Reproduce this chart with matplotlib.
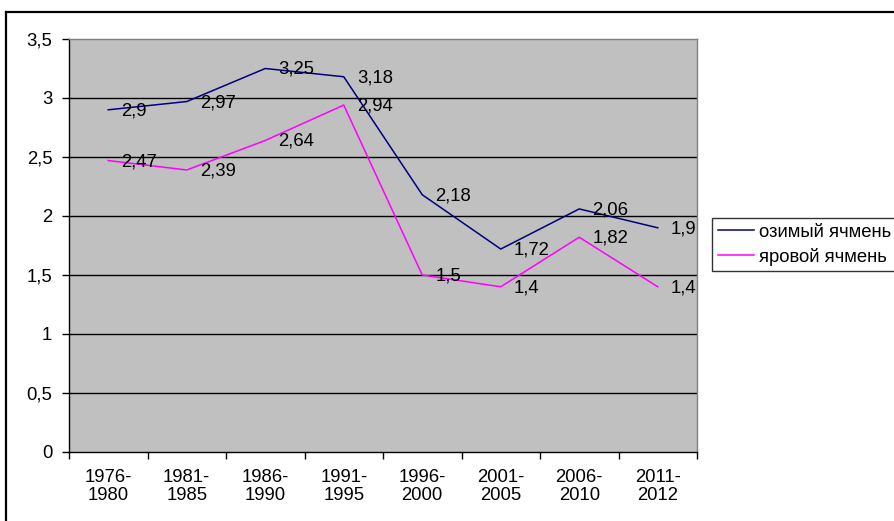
import matplotlib.pyplot as plt
from matplotlib.lines import Line2D

plt.rcParams['font.family'] = ['Liberation Sans', 'DejaVu Sans']

periods = ['1976-\n1980', '1981-\n1985', '1986-\n1990', '1991-\n1995',
           '1996-\n2000', '2001-\n2005', '2006-\n2010', '2011-\n2012']
winter = [2.9, 2.97, 3.25, 3.18, 2.18, 1.72, 2.06, 1.9]
spring = [2.47, 2.39, 2.64, 2.94, 1.5, 1.4, 1.82, 1.4]
names = ['озимый ячмень', 'яровой ячмень']
colors = ['#000080', '#FF00FF']

fs = 13.3
W, H = 894, 521
fig = plt.figure(figsize=(W / 100, H / 100), dpi=100)
ax = fig.add_axes([69 / W, 1 - 452 / H, (697 - 69) / W, (452 - 39) / H])
ax.set_facecolor('#C0C0C0')

x = list(range(len(periods)))
for vals, c, n in zip([winter, spring], colors, names):
    ax.plot(x, vals, color=c, lw=1.1, label=n)
    for xi, v in zip(x, vals):
        ax.annotate(('%g' % v).replace('.', ','), (xi, v), xytext=(13, -1),
                    textcoords='offset pixels', ha='left', va='center',
                    fontsize=fs, color='black')

ax.set_xlim(-0.5, len(periods) - 0.5)
ax.set_ylim(0, 3.5)
yt = [0, 0.5, 1, 1.5, 2, 2.5, 3, 3.5]
ax.set_yticks(yt)
ax.set_yticklabels([('%g' % t).replace('.', ',') for t in yt], fontsize=fs)
for t in yt[1:-1]:
    ax.axhline(t, color='black', lw=1, zorder=1)

ax.set_xticks([i - 0.5 for i in range(len(periods) + 1)])
ax.set_xticklabels([])
ax.set_xticks(x, minor=True)
ax.set_xticklabels(periods, minor=True, fontsize=fs, linespacing=1.1)
ax.tick_params(axis='x', which='minor', length=0, pad=12)
ax.tick_params(axis='both', which='major', length=5, width=1, color='black')
ax.tick_params(axis='y', pad=7)

ax.spines['left'].set_color('black')
ax.spines['bottom'].set_color('black')
ax.spines['top'].set_color('#808080')
ax.spines['right'].set_color('#808080')
for s in ax.spines.values():
    s.set_linewidth(1)

leg = fig.legend(loc='upper left', bbox_to_anchor=(712 / W, 1 - 218 / H),
                 fontsize=fs, frameon=True, fancybox=False, edgecolor='black',
                 handlelength=2.0, handletextpad=0.25, borderpad=0.3,
                 labelspacing=0.4, borderaxespad=0)
leg.get_frame().set_linewidth(1)

# outer chart frame (cut by the page)
fig.add_artist(Line2D([6 / W, 6 / W], [0, 1 - 12 / H], color='black', lw=1.6))
fig.add_artist(Line2D([6 / W, 1], [1 - 12 / H, 1 - 12 / H], color='black', lw=1.6))

fig.savefig('out.png', dpi=100)
